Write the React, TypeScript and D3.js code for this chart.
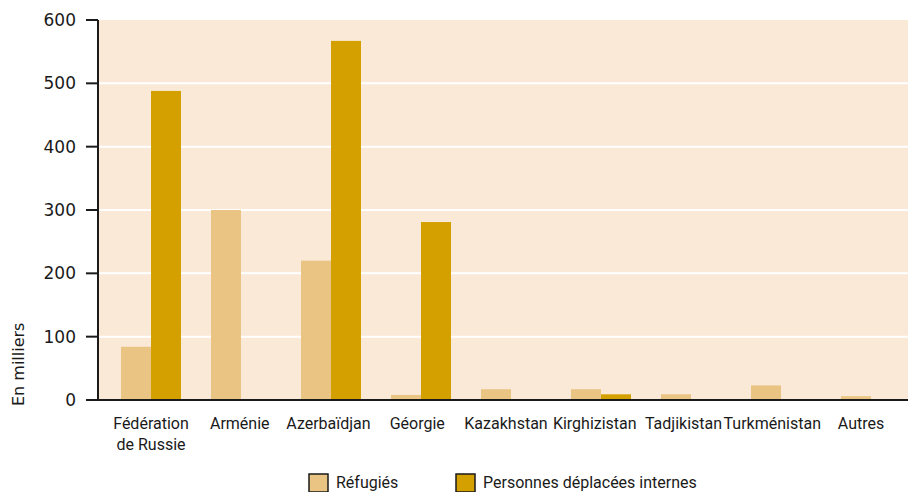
import React from "react";
import * as d3 from "d3";

const categories = [
  ["Fédération", "de Russie"],
  ["Arménie"],
  ["Azerbaïdjan"],
  ["Géorgie"],
  ["Kazakhstan"],
  ["Kirghizistan"],
  ["Tadjikistan"],
  ["Turkménistan"],
  ["Autres"],
];
const refugies = [84, 300, 220, 8, 17, 17, 9, 23, 6];
const deplaces = [488, 0, 567, 281, 0, 9, 0, 0, 0];
const yTicks = [0, 100, 200, 300, 400, 500, 600];
const seriesNames = ["Réfugiés", "Personnes déplacées internes"];
const colors = ["#E9C483", "#D4A000"];

const W = 908;
const H = 492;
const left = 98;
const right = 908;
const top = 20;
const bottom = 400;
const font = "Roboto, sans-serif";
const axisFont = "'DejaVu Sans', sans-serif";

export default function App() {
  const y = d3.scaleLinear().domain([0, 600]).range([bottom, top]);
  const x = d3
    .scaleBand<number>()
    .domain(categories.map((_, i) => i))
    .range([106, 916])
    .paddingInner(0)
    .paddingOuter(0);
  const labelX = d3
    .scalePoint<number>()
    .domain(categories.map((_, i) => i))
    .range([151, 861]);
  const step = x.bandwidth();
  const barW = step / 3;

  return (
    <svg width={W} height={H} style={{ position: "absolute", left: 0, top: 0 }}>
      <rect x={left} y={top} width={right - left} height={bottom - top} fill="#FAE9D7" />
      {yTicks.map((t) => (
        <g key={t}>
          {t > 0 && t < 600 && (
            <line x1={left} x2={right} y1={y(t)} y2={y(t)} stroke="#fff" strokeWidth={2} />
          )}
          <line x1={86} x2={left} y1={y(t)} y2={y(t)} stroke="#1a1a1a" strokeWidth={2} />
          <text x={76} y={y(t)} dy="0.36em" textAnchor="end" fontFamily={axisFont} fontSize={17} fill="#1a1a1a">
            {t}
          </text>
        </g>
      ))}
      {categories.map((c, i) => {
        const cx = (x(i) as number) + step / 2;
        const lx = labelX(i) as number;
        return (
          <g key={i}>
            <rect x={cx - barW} y={y(refugies[i])} width={barW} height={bottom - y(refugies[i])} fill={colors[0]} />
            <rect x={cx} y={y(deplaces[i])} width={barW} height={bottom - y(deplaces[i])} fill={colors[1]} />
            {c.map((line, j) => (
              <text key={j} x={lx} y={429 + j * 21} textAnchor="middle" fontFamily={font} fontSize={16} fill="#1a1a1a">
                {line}
              </text>
            ))}
          </g>
        );
      })}
      <line x1={left} x2={left} y1={top} y2={bottom} stroke="#1a1a1a" strokeWidth={2} />
      <line x1={left - 1} x2={right} y1={bottom} y2={bottom} stroke="#1a1a1a" strokeWidth={2} />
      <text
        transform={`translate(24,406) rotate(-90)`}
        textAnchor="start"
        fontFamily={axisFont}
        fontSize={16}
        fill="#1a1a1a"
      >
        En milliers
      </text>
      {seriesNames.map((s, i) => {
        const lx = [309, 456][i];
        return (
          <g key={s}>
            <rect x={lx} y={474} width={19} height={18} fill={colors[i]} stroke="#1a1a1a" strokeWidth={1.5} />
            <text x={lx + 27} y={488} fontFamily={font} fontSize={16} fill="#1a1a1a">
              {s}
            </text>
          </g>
        );
      })}
    </svg>
  );
}
